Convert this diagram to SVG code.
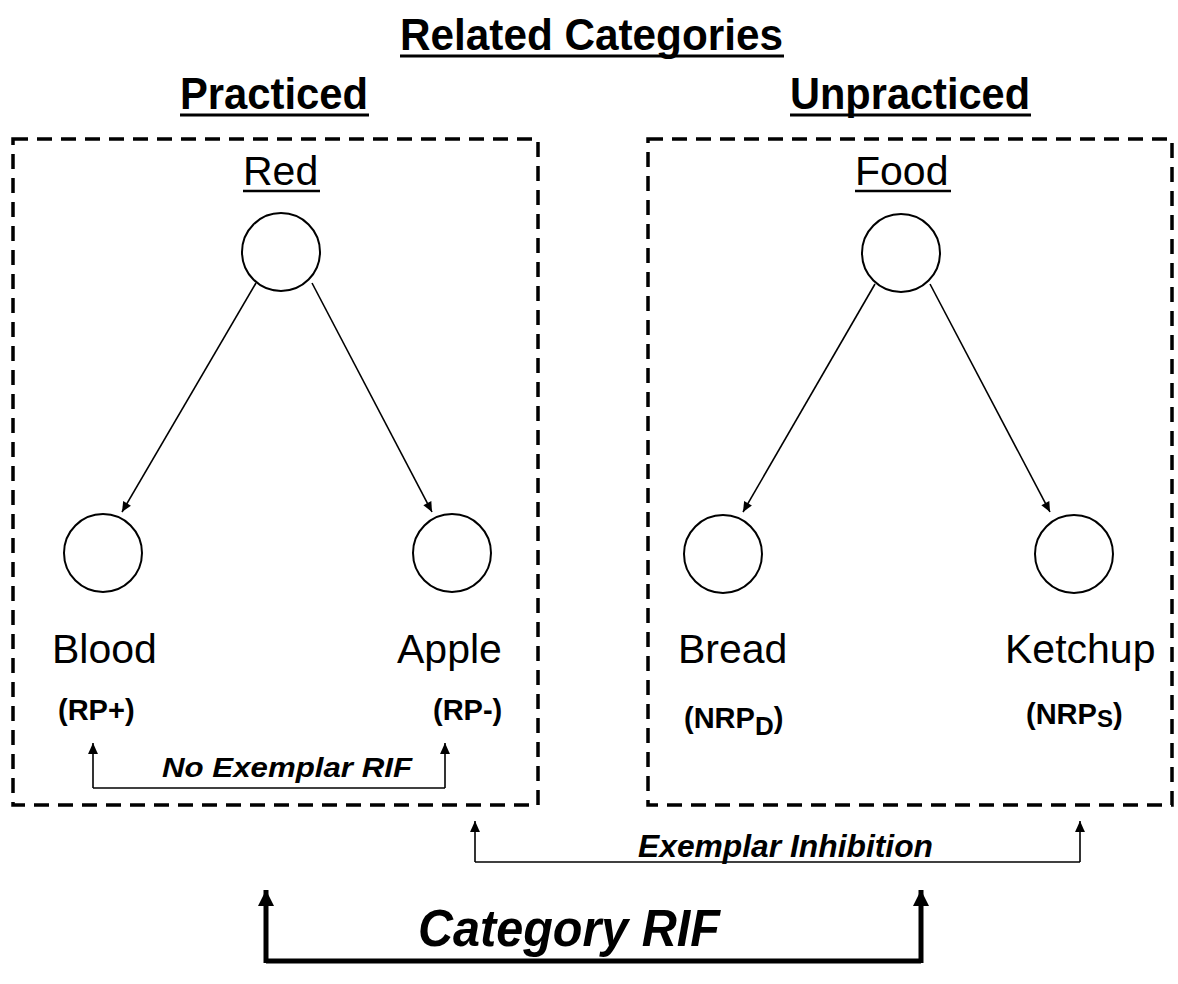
<svg xmlns="http://www.w3.org/2000/svg" width="1178" height="984" viewBox="0 0 1178 984">
<defs>
<marker id="ah" viewBox="0 0 10 10" refX="10" refY="5" markerWidth="13" markerHeight="10" markerUnits="userSpaceOnUse" orient="auto"><path d="M0,0.5 L10,5 L0,9.5 z" fill="#000"/></marker>
<marker id="ah2" viewBox="0 0 10 10" refX="10" refY="5" markerWidth="15" markerHeight="11" markerUnits="userSpaceOnUse" orient="auto"><path d="M0,0.5 L10,5 L0,9.5 z" fill="#000"/></marker>
<marker id="ah3" viewBox="0 0 10 10" refX="10" refY="5" markerWidth="24" markerHeight="16" markerUnits="userSpaceOnUse" orient="auto"><path d="M0,0 L10,5 L0,10 z" fill="#000"/></marker>
</defs>
<style>
.t{font-family:"Liberation Sans",Arial,sans-serif;fill:#000}
.h{font-weight:bold;font-size:44px}
.n{font-size:41px}
.b{font-weight:bold;font-size:29px}
.bi{font-weight:bold;font-style:italic}
.box{fill:none;stroke:#000;stroke-width:3.5;stroke-dasharray:15 9}
.c{fill:#fff;stroke:#000;stroke-width:2}
.ul{stroke:#000;stroke-width:3}
.ln{stroke:#000;stroke-width:1.6;fill:none}
.thick{stroke:#000;stroke-width:5;fill:none}
</style>
<rect width="1178" height="984" fill="#fff"/>
<g id="titles">
<text class="t h" x="400" y="50" textLength="383" lengthAdjust="spacingAndGlyphs">Related Categories</text>
<line class="ul" x1="400" y1="56" x2="784" y2="56"/>
<text class="t h" x="180" y="109" textLength="188" lengthAdjust="spacingAndGlyphs">Practiced</text>
<line class="ul" x1="180" y1="115" x2="369" y2="115"/>
<text class="t h" x="790" y="109" textLength="240" lengthAdjust="spacingAndGlyphs">Unpracticed</text>
<line class="ul" x1="790" y1="115" x2="1031" y2="115"/>
</g>
<g id="practiced-box"><rect class="box" x="13" y="139" width="525" height="666"/></g>
<g id="unpracticed-box"><rect class="box" x="648" y="139" width="524" height="666"/></g>
<g id="red">
<text class="t n" x="243" y="185">Red</text>
<line class="ul" x1="243" y1="191" x2="320" y2="191" style="stroke-width:2.5"/>
<circle class="c" cx="281" cy="252" r="39"/>
</g>
<g id="food">
<text class="t n" x="855" y="185">Food</text>
<line class="ul" x1="855" y1="191" x2="951" y2="191" style="stroke-width:2.5"/>
<circle class="c" cx="901" cy="253" r="39"/>
</g>
<g id="blood">
<circle class="c" cx="103" cy="553" r="39"/>
<text class="t n" x="52" y="663">Blood</text>
<text class="t b" x="58" y="720">(RP+)</text>
</g>
<g id="apple">
<circle class="c" cx="452" cy="553" r="39"/>
<text class="t n" x="397" y="663">Apple</text>
<text class="t b" x="433" y="720">(RP-)</text>
</g>
<g id="bread">
<circle class="c" cx="723" cy="554" r="39"/>
<text class="t n" x="678" y="663">Bread</text>
<text class="t b" x="684" y="728" font-size="30">(NRP<tspan font-size="26" dy="7">D</tspan><tspan dy="-7">)</tspan></text>
</g>
<g id="ketchup">
<circle class="c" cx="1074" cy="554" r="39"/>
<text class="t n" x="1005" y="663">Ketchup</text>
<text class="t b" x="1026" y="724" font-size="30">(NRP<tspan font-size="24" dy="3">S</tspan><tspan dy="-3">)</tspan></text>
</g>
<g id="connectors">
<line class="ln" x1="256" y1="283" x2="122" y2="512" marker-end="url(#ah)"/>
<line class="ln" x1="312" y1="283" x2="432" y2="512" marker-end="url(#ah)"/>
<line class="ln" x1="875" y1="284" x2="743" y2="512" marker-end="url(#ah)"/>
<line class="ln" x1="930" y1="284" x2="1050" y2="512" marker-end="url(#ah)"/>
<path class="ln" d="M93,788 H445"/>
<line class="ln" x1="93" y1="788" x2="93" y2="743" marker-end="url(#ah2)"/>
<line class="ln" x1="445" y1="788" x2="445" y2="743" marker-end="url(#ah2)"/>
<path class="ln" d="M475,862 H1080"/>
<line class="ln" x1="475" y1="862" x2="475" y2="821" marker-end="url(#ah2)"/>
<line class="ln" x1="1080" y1="862" x2="1080" y2="821" marker-end="url(#ah2)"/>
<path class="thick" d="M266,961 H921"/>
<line class="thick" x1="266" y1="963" x2="266" y2="890" marker-end="url(#ah3)"/>
<line class="thick" x1="921" y1="963" x2="921" y2="890" marker-end="url(#ah3)"/>
</g>
<g id="labels">
<text class="t bi" x="162" y="777" font-size="28" textLength="250" lengthAdjust="spacingAndGlyphs">No Exemplar RIF</text>
<text class="t bi" x="638" y="857" font-size="32" textLength="295" lengthAdjust="spacingAndGlyphs">Exemplar Inhibition</text>
<text class="t bi" x="418" y="946" font-size="52" textLength="302" lengthAdjust="spacingAndGlyphs">Category RIF</text>
</g>
</svg>
